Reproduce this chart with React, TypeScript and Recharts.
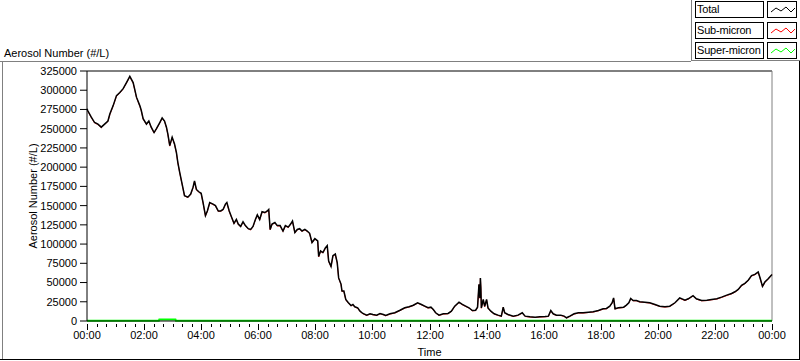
import React from "react";
import { Line, LineChart, ReferenceLine, XAxis, YAxis } from "recharts";

// minutes after midnight
const times = [
  0, 2, 9, 16, 23, 30, 37, 44, 48, 55, 62, 69, 76, 83, 90, 97, 100, 104, 111, 114, 118,
  125, 130, 135, 141, 146, 153, 158, 163, 167, 170, 174, 179, 184, 188, 191, 195, 200, 205,
  212, 218, 223, 226, 230, 235, 240, 244, 249, 253, 258, 265, 270, 276, 281, 286, 291, 294,
  299, 304, 309, 314, 318, 323, 328, 333, 339, 344, 349, 354, 358, 363, 368, 374, 379, 382,
  385, 389, 395, 400, 406, 412, 417, 423, 428, 432, 437, 442, 447, 452, 458, 463, 468, 473,
  479, 485, 487, 491, 496, 501, 505, 508, 513, 517, 522, 526, 529, 534, 536, 540, 544, 549,
  555, 559, 563, 569, 574, 580, 588, 595, 601, 609, 616, 623, 628, 637, 647, 658, 668, 677,
  686, 695, 703, 710, 717, 723, 728, 733, 740, 749, 759, 766, 773, 782, 789, 796, 803, 810,
  817, 821, 824, 826, 827, 828, 829, 833, 836, 840, 843, 849, 856, 864, 871, 875, 878, 885,
  896, 906, 915, 921, 931, 942, 952, 963, 970, 975, 980, 987, 996, 1003, 1008, 1015, 1024,
  1033, 1043, 1054, 1064, 1075, 1085, 1092, 1099, 1104, 1107, 1110, 1117, 1128, 1134, 1139,
  1143, 1148, 1155, 1162, 1173, 1183, 1194, 1204, 1215, 1225, 1236, 1246, 1257, 1264, 1274,
  1281, 1292, 1303, 1313, 1324, 1334, 1345, 1355, 1362, 1369, 1376, 1383, 1390, 1397, 1404,
  1411, 1415, 1420, 1425, 1432, 1440,
];

const total = [
  276000, 273000, 265000, 258000, 256000, 252000, 256000, 260000, 269000, 280000, 293000,
  297000, 302000, 310000, 318000, 310000, 302000, 291000, 280000, 274000, 263000,
  256000, 260000, 252000, 245000, 250000, 258000, 264000, 260000, 252000, 243000, 228000,
  239000, 230000, 219000, 206000, 193000, 178000, 163000,
  161000, 165000, 174000, 182000, 171000, 168000, 166000, 154000, 137000, 143000, 154000,
  152000, 150000, 143000, 143000, 145000, 152000, 154000,
  143000, 135000, 127000, 132000, 126000, 123000, 129000, 124000, 120000, 119000, 123000,
  132000, 138000, 132000, 142000, 141000, 143000, 145000,
  119000, 126000, 128000, 124000, 124000, 117000, 124000, 122000, 126000, 130000, 115000,
  119000, 120000, 117000, 119000, 117000, 114000, 102000,
  107000, 104000, 84000, 91000, 89000, 95000, 98000, 78000, 71000, 85000, 87000, 76000,
  56000, 48000, 39000, 39000, 28000, 24000,
  20000, 21500, 18500, 17000, 12800, 9800, 7600, 9400, 8500, 7600, 9800, 8500, 7200, 9400,
  10700, 14000, 17200, 18500,
  20500, 23700, 21500, 19300, 17200, 18000, 15000, 10700, 7600, 9400, 9800, 12800, 19300,
  24500, 21500, 19300, 17200, 13700,
  14000, 18000, 47600, 30000, 56000, 43000, 17000, 28000, 19000, 28000, 17000, 12800, 9400,
  7600, 6300, 18000, 10700, 8500,
  6300, 7600, 10700, 6300, 5500, 5000, 5500, 5900, 6300, 13700, 9400, 7600, 7600, 6300,
  4200, 6300, 9400,
  10700, 10700, 11500, 12000, 13700, 15900, 16300, 19300, 23700, 30000, 16000, 17200, 18000,
  20600, 23700,
  29300, 26700, 26700, 25000, 24500, 23700, 21500, 19300, 18500, 19300, 23700, 30000, 27000,
  28900, 33000,
  28900, 26700, 27000, 28000, 28900, 31000, 33600, 35800, 38000, 41000, 46300, 49000, 53000,
  59000, 60600,
  63700, 56000, 45000, 50600, 55000, 60600,
];

const subMicron = [
  275400, 272300, 264500, 257300, 255400, 251200, 255500, 259400, 268300, 279500, 292300,
  296400, 301500, 309300, 317500, 309400, 301300, 290500, 279300, 273500, 262300,
  255400, 259500, 251300, 244400, 249500, 257300, 263500, 259400, 251300, 242500, 227300,
  238500, 229400, 218300, 205500, 192400, 177300, 162500,
  160400, 164500, 173300, 181500, 170400, 167300, 165500, 153300, 136400, 142500, 153300,
  151400, 149500, 142300, 142500, 144400, 151300, 153500,
  142300, 134500, 126300, 131500, 125400, 122300, 128500, 123400, 119500, 118300, 122500,
  131400, 137500, 131300, 141500, 140400, 142300, 144500,
  118300, 125500, 127400, 123300, 123500, 116300, 123500, 121400, 125500, 129300, 114400,
  118500, 119300, 116500, 118400, 116300, 113500, 101300,
  106500, 103400, 83300, 90500, 88400, 94300, 97500, 77300, 70400, 84500, 86300, 75400,
  55400, 47500, 38400, 38500, 27400, 23500,
  19500, 20900, 18000, 16400, 12300, 9300, 7100, 8900, 8000, 7100, 9300, 8000, 6700, 8900,
  10200, 13500, 16700, 18000,
  20000, 23200, 21000, 18800, 16700, 17500, 14500, 10200, 7100, 8900, 9300, 12300, 18800,
  24000, 21000, 18800, 16700, 13200,
  13500, 17500, 47000, 29400, 55300, 42400, 16500, 27400, 18500, 27400, 16500, 12300, 8900,
  7100, 5800, 17500, 10200, 8000,
  5800, 7100, 10200, 5800, 5000, 4500, 5000, 5400, 5800, 13200, 8900, 7100, 7100, 5800,
  3700, 5800, 8900,
  10200, 10200, 11000, 11500, 13200, 15400, 15800, 18800, 23200, 29400, 15500, 16700, 17500,
  20100, 23200,
  28800, 26200, 26200, 24500, 24000, 23200, 21000, 18800, 18000, 18800, 23200, 29400, 26500,
  28400, 32400,
  28400, 26200, 26500, 27500, 28400, 30500, 33000, 35200, 37400, 40400, 45700, 48400, 52400,
  58400, 60000,
  63100, 55400, 44400, 50000, 54400, 60000,
];

const superTimes = [0, 60, 120, 151, 152, 186, 187, 300, 600, 900, 1200, 1440];
const superMicron = [400, 400, 400, 400, 1900, 1900, 400, 400, 400, 400, 400, 400];

const yTicks = [
  0, 25000, 50000, 75000, 100000, 125000, 150000, 175000, 200000, 225000, 250000, 275000,
  300000, 325000,
];
const timeLabels = [
  "00:00", "02:00", "04:00", "06:00", "08:00", "10:00", "12:00", "14:00", "16:00", "18:00",
  "20:00", "22:00", "00:00",
];
const xTicks = Array.from({ length: 73 }, (_, i) => i * 20);

const totalData = times.map((t, i) => ({ t, v: total[i] }));
const subData = times.map((t, i) => ({ t, v: subMicron[i] }));
const superData = superTimes.map((t, i) => ({ t, v: superMicron[i] }));

const FONT = "'Liberation Sans', Arial, sans-serif";

const renderXTick = (props: any) => {
  const { x, y, payload } = props;
  const major = payload.value % 120 === 0;
  const px = Math.round(x) + 0.5;
  return (
    <g key={`xt-${payload.value}`}>
      <line x1={px} x2={px} y1={y + 3} y2={y + (major ? 9 : 6)} stroke="#000000" strokeWidth={1} />
      {major && (
        <text x={Math.round(x)} y={y + 18} textAnchor="middle" fontSize={11} fontFamily={FONT} fill="#000000">
          {timeLabels[payload.value / 120]}
        </text>
      )}
    </g>
  );
};

const legendItems = [
  { name: "Total", color: "#000000" },
  { name: "Sub-micron", color: "#ff0000" },
  { name: "Super-micron", color: "#00ff00" },
];
const legendTops = [1, 22, 42];

export default function App() {
  return (
    <div style={{ position: "absolute", left: 0, top: 0, width: 800, height: 361, background: "#fff", fontFamily: FONT }}>
      <svg width={800} height={361} style={{ position: "absolute", left: 0, top: 0 }}>
        <line x1={0} x2={691} y1={61.5} y2={61.5} stroke="#808080" />
        <line x1={691} x2={800} y1={60.5} y2={60.5} stroke="#808080" />
        <line x1={691.5} x2={691.5} y1={0} y2={61} stroke="#808080" />
        <line x1={2.5} x2={2.5} y1={61} y2={359} stroke="#808080" />
        <line x1={0} x2={800} y1={359.5} y2={359.5} stroke="#000" />
        <line x1={799.5} x2={799.5} y1={61} y2={360} stroke="#000" />
        <text x={4} y={57} fontSize={11} fontFamily={FONT} fill="#000">
          Aerosol Number (#/L)
        </text>
      </svg>
      {legendItems.map((it, i) => (
        <div key={it.name}>
          <div
            style={{
              position: "absolute",
              left: 695,
              top: legendTops[i],
              width: 66,
              height: 15,
              border: "1px solid #000",
              background: "#fff",
              fontSize: 11,
              lineHeight: "15px",
              paddingLeft: 1,
              whiteSpace: "nowrap",
              letterSpacing: "-0.2px",
              overflow: "hidden",
              boxSizing: "content-box",
            }}
          >
            {it.name}
          </div>
          <svg
            width={30}
            height={17}
            style={{ position: "absolute", left: 767, top: legendTops[i], border: "1px solid #000", boxSizing: "border-box", background: "#fff" }}
          >
            <polyline points="3,10 8,6 13,9 18,5 23,10 27,6" fill="none" stroke={it.color} strokeWidth={1} />
          </svg>
        </div>
      ))}
      <div style={{ position: "absolute", left: 0, top: 0 }}>
        <LineChart width={800} height={361} margin={{ top: 71, right: 28, bottom: 0, left: 0 }}>
          <XAxis
            dataKey="t"
            type="number"
            domain={[0, 1440]}
            ticks={xTicks}
            interval={0}
            height={40}
            tickSize={0}
            tickMargin={0}
            tickLine={false}
            axisLine={{ stroke: "#000" }}
            tick={renderXTick}
            label={{
              content: (p: any) => (
                <text
                  x={p.viewBox.x + p.viewBox.width / 2}
                  y={p.viewBox.y + 35}
                  textAnchor="middle"
                  fontSize={11}
                  fontFamily={FONT}
                  fill="#000"
                >
                  Time
                </text>
              ),
            }}
          />
          <YAxis
            type="number"
            domain={[0, 325000]}
            ticks={yTicks}
            interval={0}
            width={87}
            tickSize={7}
            tickMargin={3}
            axisLine={{ stroke: "#000" }}
            tickLine={{ stroke: "#000" }}
            tick={{ fontSize: 11, fontFamily: FONT, fill: "#000" }}
            label={{
              content: (p: any) => {
                const cx = p.viewBox.x + 33;
                const cy = p.viewBox.y + p.viewBox.height / 2;
                return (
                  <text
                    x={cx}
                    y={cy}
                    transform={`rotate(-90, ${cx}, ${cy})`}
                    textAnchor="middle"
                    dominantBaseline="central"
                    fontSize={11}
                    fontFamily={FONT}
                    fill="#000"
                  >
                    Aerosol Number (#/L)
                  </text>
                );
              },
            }}
          />
          <ReferenceLine y={325000} stroke="#000" />
          <ReferenceLine x={1440} stroke="#808080" />
          <Line
            data={subData}
            dataKey="v"
            name="Sub-micron"
            stroke="#ff0000"
            strokeWidth={0.8}
            dot={false}
            activeDot={false}
            isAnimationActive={false}
          />
          <Line
            data={totalData}
            dataKey="v"
            name="Total"
            stroke="#000000"
            strokeWidth={1.5}
            dot={false}
            activeDot={false}
            isAnimationActive={false}
          />
          <Line
            data={superData}
            dataKey="v"
            name="Super-micron"
            stroke="#00ff00"
            strokeWidth={2}
            dot={false}
            activeDot={false}
            isAnimationActive={false}
          />
        </LineChart>
      </div>
    </div>
  );
}
